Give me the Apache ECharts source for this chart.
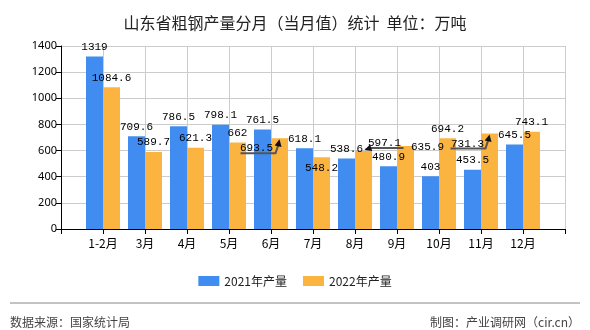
<!DOCTYPE html>
<html>
<head>
<meta charset="utf-8">
<script src="https://cdn.jsdelivr.net/npm/echarts@6/dist/echarts.min.js"></script>
<style>html,body{margin:0;padding:0;background:#fff}#c{width:590px;height:330px}</style>
</head>
<body>
<div id="c"></div>
<script>
const categories = ['', '1-2月', '3月', '4月', '5月', '6月', '7月', '8月', '9月', '10月', '11月', '12月', ''];
const values2021 = ['-', 1319, 709.6, 786.5, 798.1, 761.5, 618.1, 538.6, 480.9, 403, 453.5, 645.5, '-'];
const values2022 = ['-', 1084.6, 589.7, 621.3, 662, 693.5, 548.2, 597.1, 635.9, 694.2, 731.3, 743.1, '-'];
const yTicks = [0, 200, 400, 600, 800, 1000, 1200, 1400];
const seriesNames = ['2021年产量', '2022年产量'];
const titleText = '山东省粗钢产量分月（当月值）统计  单位：万吨';
const sourceText = '数据来源：国家统计局';
const creditText = '制图：产业调研网（cir.cn）';

// label adjustments for overlapping labels: dataIndex -> [dx, dy, pointer style]
const labelMoves2022 = {5: [-23, 19, 'left'], 6: [0, 20, null], 7: [21, 2, 'right'], 8: [22, 11, null], 10: [-22, 20, 'left']};

const chart = echarts.init(document.getElementById('c'), null, {renderer: 'canvas'});
const labelFont = {fontFamily: 'Liberation Mono', fontSize: 11, color: '#000'};
const BAR_W = 17;

// pointer lines (label -> bar top) for moved labels, drawn through the axis coordinates
const pointerData = Object.keys(labelMoves2022)
  .filter(k => labelMoves2022[k][2])
  .map(k => [Number(k), values2022[k], labelMoves2022[k][2] === 'left' ? 0 : 1]);

function renderPointer(params, api) {
  const p = api.coord([api.value(0), api.value(1)]);
  const bc = p[0] + BAR_W / 2;
  const top = p[1];
  let pts, tip;
  if (api.value(2) === 0) {
    pts = [[bc - 39, top + 15], [bc - 4, top + 15], [bc - 1, top + 6]];
    tip = [bc, top + 1];
  } else {
    pts = [[bc + 40, top - 3], [bc + 7, top - 3]];
    tip = [bc + 1, top - 1];
  }
  const last = pts[pts.length - 1];
  const ang = Math.atan2(tip[1] - last[1], tip[0] - last[0]);
  const L = 7, W = 3.5;
  const bx = tip[0] - L * Math.cos(ang), by = tip[1] - L * Math.sin(ang);
  const nx = -Math.sin(ang) * W, ny = Math.cos(ang) * W;
  return {
    type: 'group',
    children: [
      {type: 'polyline', shape: {points: pts.concat([[bx, by]])}, style: {stroke: '#555', lineWidth: 2, fill: null}},
      {type: 'polygon', shape: {points: [tip, [bx + nx, by + ny], [bx - nx, by - ny]]}, style: {fill: '#111'}}
    ]
  };
}

chart.setOption({
  animation: false,
  title: {
    text: titleText, left: 'center', top: 10,
    textStyle: {fontSize: 16, fontWeight: 'normal', color: '#222', fontFamily: 'Noto Sans CJK SC'}
  },
  legend: {
    data: seriesNames, top: 270, left: 'center', itemWidth: 21, itemHeight: 10, itemGap: 16,
    icon: 'rect',
    textStyle: {fontSize: 12, color: '#222', fontFamily: 'Noto Sans CJK SC'}
  },
  grid: {left: 61, right: 25, top: 46, bottom: 101, containLabel: false},
  xAxis: {
    type: 'category', data: categories, boundaryGap: false,
    axisLine: {lineStyle: {color: '#000'}},
    axisTick: {show: true, length: 5, lineStyle: {color: '#000'}},
    axisLabel: {fontSize: 12, color: '#000', margin: 8, fontFamily: 'Noto Sans CJK SC', interval: 0},
    splitLine: {show: true, lineStyle: {color: '#ccc', width: 1}}
  },
  yAxis: {
    type: 'value', min: yTicks[0], max: yTicks[yTicks.length - 1], interval: 200,
    axisLine: {show: true, lineStyle: {color: '#000'}},
    axisTick: {show: true, length: 5, lineStyle: {color: '#000'}},
    axisLabel: {fontSize: 11, color: '#000', margin: 4, fontFamily: 'Noto Sans', formatter: v => String(v)},
    splitLine: {show: true, lineStyle: {color: '#ccc'}}
  },
  series: [
    {
      name: seriesNames[0], type: 'bar', data: values2021,
      barWidth: BAR_W, barGap: '0%',
      itemStyle: {color: '#418cf0'},
      label: Object.assign({show: true, position: 'top', distance: 4}, labelFont)
    },
    {
      name: seriesNames[1], type: 'bar', data: values2022,
      barWidth: BAR_W, barGap: '0%',
      itemStyle: {color: '#fcb441'},
      label: Object.assign({show: true, position: 'top', distance: 4}, labelFont),
      labelLayout: function (p) {
        const m = labelMoves2022[p.dataIndex];
        if (!m) return {};
        return {dx: m[0], dy: m[1]};
      }
    },
    {
      type: 'custom', name: 'pointer', data: pointerData, renderItem: renderPointer,
      silent: true, z: 10, encode: {x: 0, y: 1}
    }
  ],
  graphic: [
    {type: 'line', shape: {x1: 10, y1: 303, x2: 580, y2: 303}, style: {stroke: '#888', lineWidth: 1}},
    {type: 'text', left: 10, top: 316, style: {text: sourceText, fontSize: 12, fill: '#444', fontFamily: 'Noto Sans CJK SC'}},
    {type: 'text', right: 10, top: 316, style: {text: creditText, fontSize: 12, fill: '#444', fontFamily: 'Noto Sans CJK SC'}}
  ]
});
</script>
</body>
</html>
